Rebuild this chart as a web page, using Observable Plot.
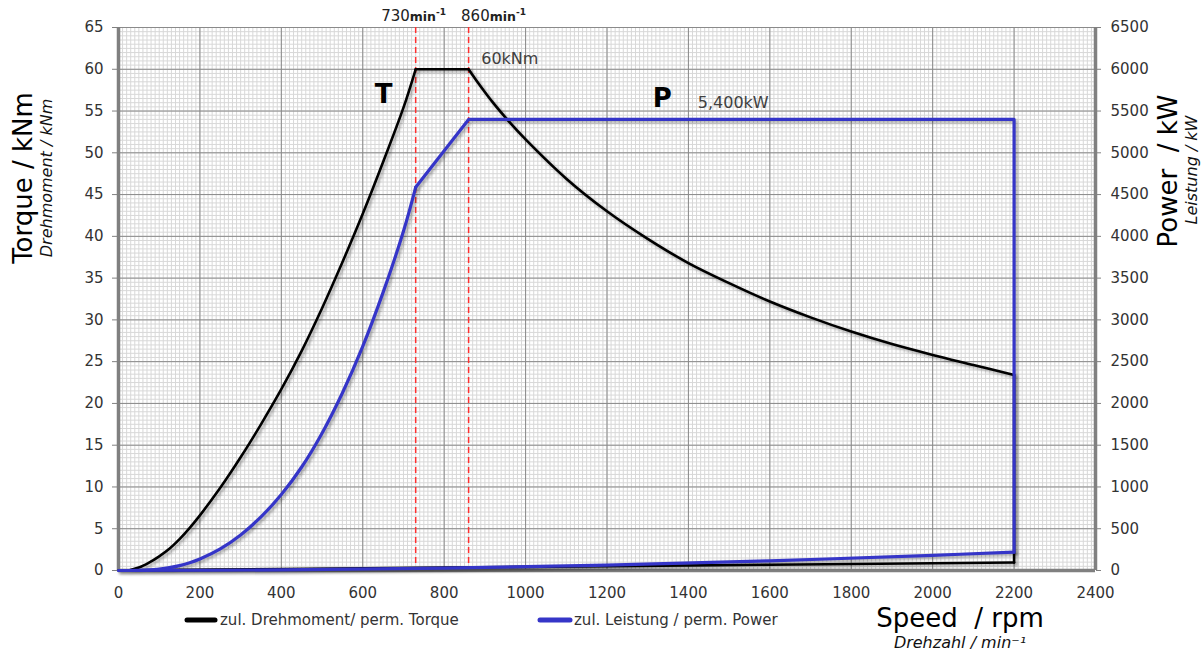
<!DOCTYPE html>
<html>
<head>
<meta charset="utf-8">
<script src="https://cdn.jsdelivr.net/npm/d3@7"></script>
<script src="https://cdn.jsdelivr.net/npm/@observablehq/plot@0.6"></script>
<style>
  html, body { margin: 0; padding: 0; background: #fff; }
  #chart svg g[aria-label="line"] { filter: drop-shadow(2px 2px 1.5px rgba(0,0,0,0.33)); }
</style>
</head>
<body>
<div id="chart"></div>
<script>
// ---- data ----
// permissible torque (kNm) vs speed (rpm)
const torqueRiseRpm = [25, 50, 75, 100, 125, 150, 175, 200, 250, 300, 350, 400, 450, 500, 550, 600, 650, 700, 730];
const torqueRiseKNm = [0, 0.35, 0.95, 1.7, 2.6, 3.75, 5.1, 6.6, 9.9, 13.55, 17.5, 21.7, 26.3, 31.4, 36.9, 42.7, 48.9, 55.4, 60];
const torqueFallRpm = [860, 880, 920, 960, 1000, 1100, 1200, 1300, 1400, 1500, 1600, 1700, 1800, 1900, 2000, 2100, 2200];
const torqueFallKNm = [60, 58.6, 56.0, 53.7, 51.6, 46.9, 43.0, 39.7, 36.8, 34.4, 32.2, 30.3, 28.6, 27.1, 25.8, 24.6, 23.4];
const torqueLossRpm = [0, 400, 800, 1200, 1600, 2000, 2200];
const torqueLossKNm = [0, 0.17, 0.35, 0.52, 0.69, 0.87, 0.95];
// permissible power (kW) vs speed (rpm)
const powerRiseRpm = [25, 50, 75, 100, 125, 150, 175, 200, 250, 300, 350, 400, 450, 500, 550, 600, 650, 700, 730];
const powerRiseKW = [0, 1.8, 7.5, 17.8, 34, 59, 93, 138, 259, 426, 641, 909, 1239, 1644, 2125, 2683, 3329, 4061, 4587];
const powerFlatRpm = [730, 860, 2200, 2200];
const powerFlatKW = [4587, 5400, 5400, 220];
const powerLossRpm = [0, 400, 800, 1200, 1600, 2000, 2200];
const powerLossKW = [0, 7, 29, 65, 116, 182, 220];

const markerRpm = [730, 860];
const xTicks = [0, 200, 400, 600, 800, 1000, 1200, 1400, 1600, 1800, 2000, 2200, 2400];
const yTicksLeft = [0, 5, 10, 15, 20, 25, 30, 35, 40, 45, 50, 55, 60, 65];
const powerPerTorqueUnit = 100; // right axis: 0..6500 kW over the 0..65 kNm frame

const letterLabels = [
  {rpm: 651, val: 56.0, text: "T"},
  {rpm: 1336, val: 55.5, text: "P"}
];
const valueLabels = [
  {rpm: 891, val: 60.6, text: "60kNm"},
  {rpm: 1423, val: 55.4, text: "5,400kW"}
];

const pts = (rpms, vals, seg, k = 1) => rpms.map((r, i) => ({rpm: r, v: vals[i] / k, seg}));

const tqLast = torqueFallRpm.length - 1;
const torqueCurved = [
  ...pts(torqueRiseRpm, torqueRiseKNm, "rise"),
  ...pts(torqueFallRpm, torqueFallKNm, "fall"),
  ...pts(torqueLossRpm, torqueLossKNm, "loss")
];
const torqueStraight = [
  ...pts([torqueRiseRpm.at(-1), torqueFallRpm[0]], [torqueRiseKNm.at(-1), torqueFallKNm[0]], "flat"),
  ...pts([torqueFallRpm[tqLast], torqueLossRpm.at(-1)], [torqueFallKNm[tqLast], torqueLossKNm.at(-1)], "drop")
];
const powerCurved = [
  ...pts(powerRiseRpm, powerRiseKW, "rise", powerPerTorqueUnit),
  ...pts(powerLossRpm, powerLossKW, "loss", powerPerTorqueUnit)
];
const powerStraight = pts(powerFlatRpm, powerFlatKW, "flat", powerPerTorqueUnit);

const minorX = d3.range(0, 2401, 10);
const minorY = d3.range(0, 65.01, 0.5);

const TORQUE_COLOR = "#000";
const POWER_COLOR = "#3535c8";

const chart = Plot.plot({
  width: 1204,
  height: 652,
  marginLeft: 118,
  marginRight: 109,
  marginTop: 27,
  marginBottom: 82,
  style: {fontFamily: "DejaVu Sans", fontSize: "15px", background: "#fff", overflow: "visible"},
  x: {domain: [0, 2400]},
  y: {domain: [0, 65]},
  marks: [
    Plot.gridX(minorX, {stroke: "#d8d8d8", strokeOpacity: 1}),
    Plot.gridY(minorY, {stroke: "#d8d8d8", strokeOpacity: 1}),
    Plot.gridX(xTicks, {stroke: "#8a8a8a", strokeOpacity: 1}),
    Plot.gridY(yTicksLeft, {stroke: "#8a8a8a", strokeOpacity: 1}),
    Plot.axisY({anchor: "left", ticks: yTicksLeft, tickSize: 6, tickPadding: 9, label: null, stroke: "#808080", fill: "#333"}),
    Plot.axisY({anchor: "right", ticks: yTicksLeft, tickSize: 5, tickPadding: 10, label: null, stroke: "#808080", fill: "#333", tickFormat: d => String(d * powerPerTorqueUnit)}),
    Plot.axisX({ticks: xTicks, tickSize: 0, tickPadding: 17, label: null, fill: "#333", tickFormat: d => String(d)}),
    Plot.ruleX(markerRpm, {stroke: "#ff3030", strokeWidth: 1.5, strokeDasharray: "6,4"}),
    Plot.ruleX([0, 2400], {stroke: "#808080", strokeWidth: 3.5}),
    Plot.ruleY([0], {stroke: "#808080", strokeWidth: 3.5}),
    Plot.line(torqueCurved, {x: "rpm", y: "v", z: "seg", curve: "catmull-rom", stroke: TORQUE_COLOR, strokeWidth: 2.6}),
    Plot.line(torqueStraight, {x: "rpm", y: "v", z: "seg", stroke: TORQUE_COLOR, strokeWidth: 2.6}),
    Plot.line(powerCurved, {x: "rpm", y: "v", z: "seg", curve: "catmull-rom", stroke: POWER_COLOR, strokeWidth: 3.2}),
    Plot.line(powerStraight, {x: "rpm", y: "v", z: "seg", stroke: POWER_COLOR, strokeWidth: 3.2}),
    Plot.text(letterLabels, {x: "rpm", y: "val", text: "text", fontSize: 26, fontWeight: "bold", fill: "#000", lineAnchor: "bottom", textAnchor: "middle"}),
    Plot.text(valueLabels, {x: "rpm", y: "val", text: "text", fontSize: 16, fill: "#404040", lineAnchor: "bottom", textAnchor: "start"})
  ]
});
document.getElementById("chart").appendChild(chart);

const svg = d3.select(chart);
const xs = chart.scale("x");

// marker labels 730 min-1 / 860 min-1
const markerOffsets = [-34, -7];
markerRpm.forEach((r, i) => {
  const t = svg.append("text")
    .attr("x", xs.apply(r) + markerOffsets[i])
    .attr("y", 21)
    .attr("text-anchor", "start")
    .attr("font-family", "DejaVu Sans")
    .attr("fill", "#222");
  t.append("tspan").attr("font-size", 15).text(String(r));
  t.append("tspan").attr("font-size", 12.5).attr("font-weight", "bold").text("min");
  t.append("tspan").attr("font-size", 9).attr("font-weight", "bold").attr("dy", -6).text("-1");
});

function addText(txt, x, y, size, opts = {}) {
  const t = svg.append("text")
    .attr("transform", `translate(${x},${y})` + (opts.rotate ? ` rotate(${opts.rotate})` : ""))
    .attr("text-anchor", opts.anchor || "middle")
    .attr("font-family", "DejaVu Sans")
    .attr("font-size", size)
    .attr("fill", opts.fill || "#000")
    .attr("xml:space", "preserve");
  if (opts.italic) t.attr("font-style", "italic");
  t.text(txt);
  return t;
}

// axis titles
addText("Torque / kNm", 32, 178, 26, {rotate: -90});
addText("Drehmoment / kNm", 52, 178, 16, {rotate: -90, italic: true, fill: "#111"});
addText("Power\u00a0 / kW", 1177, 171, 26, {rotate: -90});
addText("Leistung / kW", 1197, 170, 16, {rotate: -90, italic: true, fill: "#111"});
addText("Speed\u00a0 / rpm", 960, 627, 26);
addText("Drehzahl / min\u207B\u00B9", 960, 648, 16, {italic: true, fill: "#111"});

// legend
const legend = [
  {x1: 187, x2: 215, tx: 220, color: TORQUE_COLOR, label: "zul. Drehmoment/ perm. Torque"},
  {x1: 540, x2: 570, tx: 574, color: POWER_COLOR, label: "zul. Leistung / perm. Power"}
];
legend.forEach(l => {
  svg.append("line").attr("x1", l.x1).attr("x2", l.x2).attr("y1", 620).attr("y2", 620)
    .attr("stroke", l.color).attr("stroke-width", 5).attr("stroke-linecap", "round");
  addText(l.label, l.tx, 625, 15, {anchor: "start", fill: "#333"});
});
</script>
</body>
</html>
